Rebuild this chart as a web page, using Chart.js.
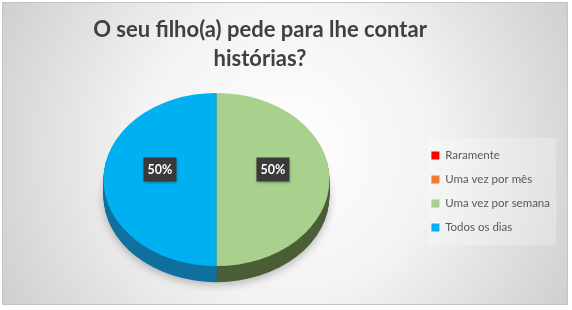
<!DOCTYPE html>
<html>
<head>
<meta charset="utf-8">
<script src="https://cdn.jsdelivr.net/npm/chart.js@4/dist/chart.umd.min.js"></script>
<style>
  html, body { margin: 0; padding: 0; background: #fff; }
  #wrap { width: 572px; height: 310px; }
</style>
</head>
<body>
<div id="wrap"><canvas id="pie" width="572" height="310"></canvas></div>
<script>
// ── DATA ───────────────────────────────────────────────────────
const TITLE_LINES = ['O seu filho(a) pede para lhe contar', 'histórias?'];
const CATEGORIES  = ['Raramente', 'Uma vez por mês', 'Uma vez por semana', 'Todos os dias'];
const VALUES      = [0, 0, 50, 50];

// ── STYLE ──────────────────────────────────────────────────────
const COLORS      = ['#ff0000', '#ed7d31', '#a9d18e', '#00b0f0'];
const SIDE_COLORS = ['#8c0000', '#8a4519', '#4b5f36', '#10719f'];
const FONT        = 'Lato, "Open Sans", sans-serif';
const TILT        = 0.766;   // vertical squash of the pie (3D look)
const DEPTH       = 16;      // thickness of the pie edge, px on screen
const FACE_Y      = 179.5;   // screen y of pie centre
const LABEL_DY    = -10;

// background panel + title
const framePlugin = {
  id: 'frame',
  beforeDraw(chart) {
    const ctx = chart.ctx;
    ctx.save();
    ctx.fillStyle = '#ffffff';
    ctx.fillRect(0, 0, chart.width, chart.height);
    const g = ctx.createRadialGradient(286, 150, 0, 286, 150, 330);
    g.addColorStop(0, '#ffffff');
    g.addColorStop(0.45, '#f3f3f3');
    g.addColorStop(1, '#cdcdcd');
    ctx.fillStyle = g;
    ctx.fillRect(2, 2, 566, 303);
    ctx.strokeStyle = '#c4c4c4';
    ctx.lineWidth = 1;
    ctx.strokeRect(2.5, 2.5, 565, 302);

    // faint legend panel
    const lg = chart.legend;
    if (lg && lg.legendHitBoxes.length) {
      const hb = lg.legendHitBoxes;
      const x0 = hb[0].left - 3, y0 = hb[0].top - 12;
      const last = hb[hb.length - 1];
      ctx.fillStyle = 'rgba(255,255,255,0.25)';
      ctx.fillRect(x0, y0, 128, last.top + last.height + 12 - y0);
    }

    ctx.fillStyle = '#404040';
    ctx.font = 'bold 22px ' + FONT;
    ctx.textAlign = 'center';
    ctx.textBaseline = 'alphabetic';
    TITLE_LINES.forEach((t, i) => ctx.fillText(t, 260, 37 + i * 29));
    ctx.restore();
  }
};

function tilt(ctx, arc) {
  ctx.translate(0, FACE_Y);
  ctx.scale(1, TILT);
  ctx.translate(0, -arc.y);
}

// 3D edge under the pie, squash the face, then value labels
const pie3dPlugin = {
  id: 'pie3d',
  beforeDatasetsDraw(chart) {
    const ctx = chart.ctx;
    const arcs = chart.getDatasetMeta(0).data;
    const a0 = arcs[0];
    ctx.save();
    ctx.save();
    tilt(ctx, a0);
    const steps = Math.round(DEPTH / TILT);
    for (let d = steps; d > 0; d--) {
      if (d === steps) {
        ctx.shadowColor = 'rgba(0,0,0,0.25)';
        ctx.shadowBlur = 8;
        ctx.shadowOffsetY = 3;
      } else {
        ctx.shadowColor = 'transparent';
      }
      arcs.forEach((arc, i) => {
        if (arc.endAngle - arc.startAngle <= 0) return;
        ctx.beginPath();
        ctx.moveTo(arc.x, arc.y + d);
        ctx.arc(arc.x, arc.y + d, arc.outerRadius, arc.startAngle, arc.endAngle);
        ctx.closePath();
        ctx.fillStyle = SIDE_COLORS[i];
        ctx.fill();
      });
    }
    ctx.restore();
    tilt(ctx, a0);
  },
  afterDatasetsDraw(chart) {
    const ctx = chart.ctx;
    ctx.restore();
    const arcs = chart.getDatasetMeta(0).data;
    const total = VALUES.reduce((s, v) => s + v, 0);
    ctx.save();
    ctx.font = 'bold 12.5px ' + FONT;
    ctx.textAlign = 'center';
    ctx.textBaseline = 'middle';
    arcs.forEach((arc, i) => {
      if (!VALUES[i]) return;
      const p = arc.getCenterPoint();
      const x = p.x;
      const y = FACE_Y + (p.y - arc.y) * TILT + LABEL_DY;
      const txt = Math.round(VALUES[i] / total * 100) + '%';
      ctx.shadowColor = 'rgba(0,0,0,0.35)';
      ctx.shadowBlur = 3;
      ctx.shadowOffsetX = 1;
      ctx.shadowOffsetY = 1;
      ctx.fillStyle = '#3a3a3a';
      ctx.fillRect(x - 16.5, y - 12, 33, 24);
      ctx.shadowColor = 'transparent';
      ctx.fillStyle = '#ffffff';
      ctx.fillText(txt, x, y + 0.5);
    });
    ctx.restore();
  }
};

Chart.defaults.font.family = FONT;

new Chart(document.getElementById('pie'), {
  type: 'pie',
  data: {
    labels: CATEGORIES,
    datasets: [{
      data: VALUES,
      backgroundColor: COLORS,
      borderWidth: 0,
      hoverOffset: 0,
    }],
  },
  options: {
    responsive: false,
    animation: false,
    events: [],
    radius: 113,
    layout: { padding: { top: 74, bottom: 1, left: 14, right: 12 } },
    plugins: {
      title: { display: false },
      tooltip: { enabled: false },
      legend: {
        position: 'right',
        align: 'center',
        labels: {
          color: '#595959',
          font: { size: 11.5, family: FONT },
          boxWidth: 8,
          boxHeight: 8,
          padding: 12.5,
        },
      },
    },
  },
  plugins: [framePlugin, pie3dPlugin],
});
</script>
</body>
</html>
